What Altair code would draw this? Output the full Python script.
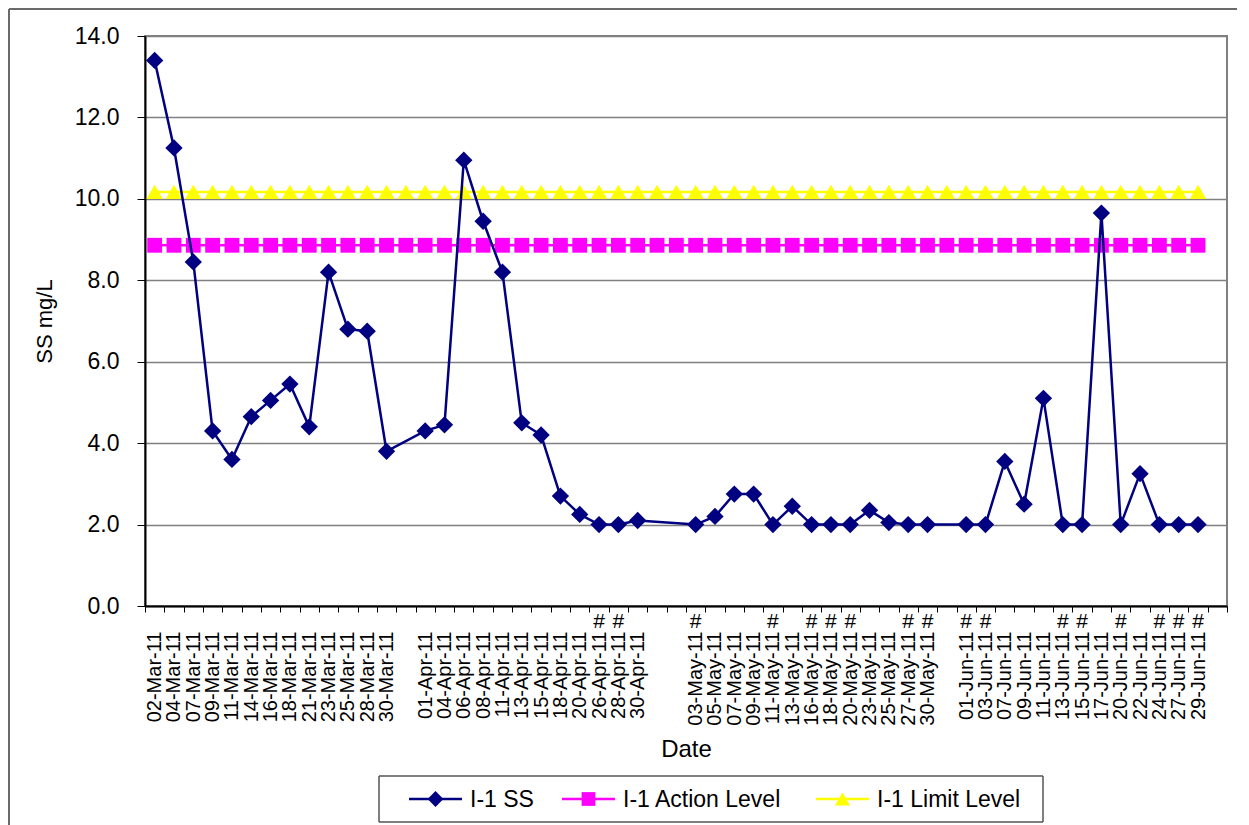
import altair as alt
import pandas as pd

# ---- data ----
categories = [
    "02-Mar-11", "04-Mar-11", "07-Mar-11", "09-Mar-11", "11-Mar-11", "14-Mar-11",
    "16-Mar-11", "18-Mar-11", "21-Mar-11", "23-Mar-11", "25-Mar-11", "28-Mar-11",
    "30-Mar-11", "", "01-Apr-11", "04-Apr-11", "06-Apr-11", "08-Apr-11", "11-Apr-11",
    "13-Apr-11", "15-Apr-11", "18-Apr-11", "20-Apr-11", "26-Apr-11", "28-Apr-11",
    "30-Apr-11", "", "", "03-May-11", "05-May-11", "07-May-11", "09-May-11",
    "11-May-11", "13-May-11", "16-May-11", "18-May-11", "20-May-11", "23-May-11",
    "25-May-11", "27-May-11", "30-May-11", "", "01-Jun-11", "03-Jun-11", "07-Jun-11",
    "09-Jun-11", "11-Jun-11", "13-Jun-11", "15-Jun-11", "17-Jun-11", "20-Jun-11",
    "22-Jun-11", "24-Jun-11", "27-Jun-11", "29-Jun-11", "",
]
ss_values = [
    13.4, 11.25, 8.45, 4.3, 3.6, 4.65, 5.05, 5.45, 4.4, 8.2, 6.8, 6.75, 3.8,
    None, 4.3, 4.45, 10.95, 9.45, 8.2, 4.5, 4.2, 2.7, 2.25, 2.0, 2.0, 2.1,
    None, None, 2.0, 2.2, 2.75, 2.75, 2.0, 2.45, 2.0, 2.0, 2.0, 2.35, 2.05, 2.0, 2.0,
    None, 2.0, 2.0, 3.55, 2.5, 5.1, 2.0, 2.0, 9.65, 2.0, 3.25, 2.0, 2.0, 2.0, None,
]
hash_labels = [
    "26-Apr-11", "28-Apr-11", "03-May-11", "11-May-11", "16-May-11", "18-May-11",
    "20-May-11", "27-May-11", "30-May-11", "01-Jun-11", "03-Jun-11", "13-Jun-11",
    "15-Jun-11", "20-Jun-11", "24-Jun-11", "27-Jun-11", "29-Jun-11",
]
action_level = 8.86
limit_level = 10.17
series_names = ["I-1 SS", "I-1 Action Level", "I-1 Limit Level"]
series_colors = ["#000080", "#FF00FF", "#FFFF00"]
series_shapes = ["diamond", "square", "triangle-up"]

# unique keys for categories: blank slots become distinct runs of spaces
keys = []
nb = 0
for c in categories:
    if c:
        keys.append(c)
    else:
        nb += 1
        keys.append(" " * nb)
n_used = len(categories) - 1  # last blank slot carries no values

ss_df = pd.DataFrame([
    {"cat": k, "value": ss_values[i]}
    for i, k in enumerate(keys) if ss_values[i] is not None
])
act_df = pd.DataFrame({"cat": keys[:n_used], "value": [action_level] * n_used})
lim_df = pd.DataFrame({"cat": keys[:n_used], "value": [limit_level] * n_used})
hash_df = pd.DataFrame({"cat": hash_labels, "t": ["#"] * len(hash_labels)})

W, H = 1082, 570
FONT = "Liberation Sans"

x_enc = alt.X(
    "cat:N",
    sort=None,
    scale=alt.Scale(domain=keys, type="band", paddingInner=0, paddingOuter=0),
    axis=alt.Axis(
        title="Date", titleFontSize=24, titleFont=FONT, titleFontWeight="normal",
        titleColor="black", titlePadding=12,
        labelAngle=270, labelFontSize=20, labelFont=FONT, labelColor="black",
        labelOverlap=False, labelPadding=19,
        tickBand="extent",
        tickSize=6, tickColor="black", tickWidth=1,
        domainColor="black", domainWidth=2, grid=False,
    ),
)
y_enc = alt.Y(
    "value:Q",
    scale=alt.Scale(domain=[0, 14], nice=False),
    axis=alt.Axis(
        title="SS mg/L", titleFontSize=22, titleFont=FONT, titleFontWeight="normal",
        titleColor="black", titlePadding=18,
        values=[0, 2, 4, 6, 8, 10, 12, 14], format=".1f",
        labelFontSize=23, labelFont=FONT, labelColor="black", labelPadding=18,
        tickSize=8, tickColor="black", tickWidth=1,
        domainColor="black", domainWidth=2,
        grid=True, gridColor="#808080", gridWidth=1.3,
    ),
)


def series_layers(data, color, shape, size):
    line = alt.Chart(data).mark_line(strokeWidth=2.5, color=color).encode(
        x=x_enc, y=y_enc
    )
    pts = alt.Chart(data).mark_point(
        filled=True, size=size, opacity=1, color=color, shape=shape
    ).encode(x=x_enc, y=y_enc)
    return [line, pts]


act_layers = series_layers(act_df, series_colors[1], "square", 220)
lim_layers = series_layers(lim_df, series_colors[2], "triangle-up", 270)
ss_layers = series_layers(ss_df, series_colors[0], "diamond", 300)

hash_marks = alt.Chart(hash_df).mark_text(
    fontSize=21, font=FONT, color="black", baseline="middle", align="center"
).encode(x=x_enc, y=alt.value(H + 16), text="t:N")

# ---- outer chart frame (top and left edges visible) ----
frame_df = pd.DataFrame({"part": ["frame"]})
frame_layers = [
    alt.Chart(frame_df).mark_rule(color="#6a6a6a", strokeWidth=2).encode(
        x=alt.value(-136), x2=alt.value(W + 10), y=alt.value(-27)
    ),
    alt.Chart(frame_df).mark_rule(color="#6a6a6a", strokeWidth=2).encode(
        x=alt.value(-136), y=alt.value(-27), y2=alt.value(H + 225)
    ),
]

# ---- legend box (drawn below the plot) ----
legend_layers = []
leg_y = 763
leg_line_x = [264, 417, 671]
leg_sizes = [250, 190, 230]
box = pd.DataFrame({"series": ["box"]})
for (xa, xb, ya, yb) in [(234, 898, 740, None), (234, 898, 786, None),
                         (234, None, 740, 786), (898, None, 740, 786)]:
    enc = {"x": alt.value(xa), "y": alt.value(ya)}
    if xb is not None:
        enc["x2"] = alt.value(xb)
    if yb is not None:
        enc["y2"] = alt.value(yb)
    legend_layers.append(
        alt.Chart(box).mark_rule(color="#555555", strokeWidth=1.5).encode(**enc)
    )
for name, color, shape, lx, sz in zip(series_names, series_colors, series_shapes,
                                      leg_line_x, leg_sizes):
    d = pd.DataFrame({"series": [name]})
    legend_layers.append(
        alt.Chart(d).mark_rule(color=color, strokeWidth=2.5).encode(
            x=alt.value(lx), x2=alt.value(lx + 53), y=alt.value(leg_y)
        )
    )
    legend_layers.append(
        alt.Chart(d).mark_point(filled=True, opacity=1, color=color, shape=shape,
                                size=sz).encode(
            x=alt.value(lx + 26.5), y=alt.value(leg_y)
        )
    )
    legend_layers.append(
        alt.Chart(d).mark_text(fontSize=23, font=FONT, color="black", align="left",
                               baseline="middle").encode(
            x=alt.value(lx + 61), y=alt.value(leg_y + 1), text="series:N"
        )
    )

chart = alt.layer(
    *frame_layers, *act_layers, *lim_layers, *ss_layers, hash_marks, *legend_layers
).properties(
    width=W, height=H,
    padding={"left": 0, "top": 0, "right": 0, "bottom": 0},
    background="white",
).configure_view(
    stroke="#808080", strokeWidth=2
)

chart.save("out.html", embed_options={"renderer": "svg", "actions": False})
